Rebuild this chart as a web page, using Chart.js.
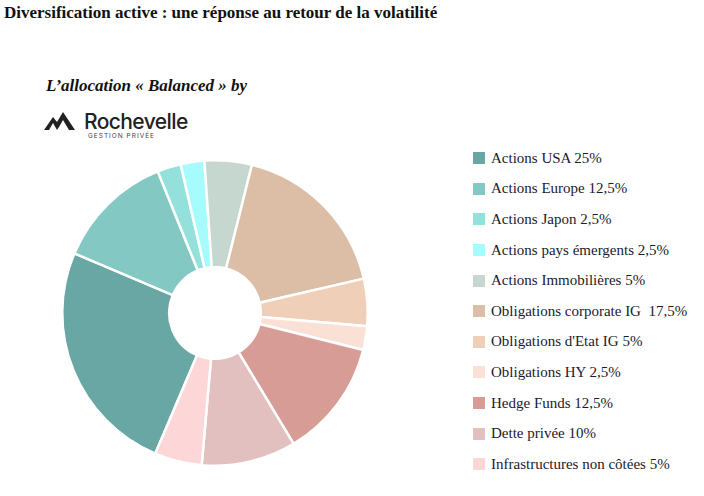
<!DOCTYPE html>
<html><head><meta charset="utf-8">
<script src="https://cdn.jsdelivr.net/npm/chart.js@4/dist/chart.umd.min.js"></script>
<style>
body{margin:0;width:704px;height:496px;background:#fff;position:relative;overflow:hidden;font-family:"Liberation Serif",serif;}
#title{position:absolute;left:4px;top:3px;font-weight:bold;font-size:17px;color:#111;}
#sub{position:absolute;left:46px;top:76px;font-weight:bold;font-style:italic;font-size:17px;color:#111;}
#logo{position:absolute;left:44px;top:108px;}
#wrap{position:absolute;left:55px;top:153px;width:320px;height:320px;}
#legend{position:absolute;left:473px;top:143px;}
.row{height:30.6px;display:flex;align-items:center;font-size:15px;color:#1a1a2e;}
.sw{width:12px;height:12px;margin-right:6px;}
</style></head><body>
<div id="title">Diversification active : une réponse au retour de la volatilité</div>
<div id="sub">L’allocation « Balanced » by</div>
<svg id="logo" width="160" height="32" viewBox="0 0 160 32">
<path d="M0 22 L9 9 L13 14 L19 4 L31 22 L25 22 L19 12 L15 19 L13 22 L9 15 L5 22 Z" fill="#222"/>
<text x="40" y="21" font-family="Inter, sans-serif" font-size="21" font-weight="500" fill="#222" letter-spacing="-0.6">Rochevelle</text>
<text x="44" y="30" font-family="Inter, sans-serif" font-size="6.5" fill="#444" letter-spacing="1">GESTION PRIVÉE</text>
</svg>
<div id="wrap"><canvas id="c"></canvas></div>
<div id="legend"></div>
<script>
const labels=["Actions USA 25%","Actions Europe 12,5%","Actions Japon 2,5%","Actions pays émergents 2,5%","Actions Immobilières 5%","Obligations corporate IG  17,5%","Obligations d'Etat IG 5%","Obligations HY 2,5%","Hedge Funds 12,5%","Dette privée 10%","Infrastructures non côtées 5%"];
const values=[25,12.5,2.5,2.5,5,17.5,5,2.5,12.5,10,5];
const colors=["#68a7a3","#84c8c4","#93e1da","#a6fcfc","#c5d7ce","#dcbea7","#efcfb8","#fbe1d5","#d79c96","#e1c0bf","#fdd6d8"];
const lg=document.getElementById('legend');
labels.forEach((l,i)=>{const r=document.createElement('div');r.className='row';r.innerHTML='<span class="sw" style="background:'+colors[i]+'"></span>'+l.replace(/  /g,'&nbsp; ');lg.appendChild(r);});
new Chart(document.getElementById('c'),{type:'doughnut',
data:{labels:labels,datasets:[{data:values,backgroundColor:colors,borderColor:'#fff',borderWidth:2.5}]},
options:{responsive:true,maintainAspectRatio:false,animation:false,rotation:203,cutout:'30%',
layout:{padding:6},plugins:{legend:{display:false},tooltip:{enabled:false}}}});
</script></body></html>
